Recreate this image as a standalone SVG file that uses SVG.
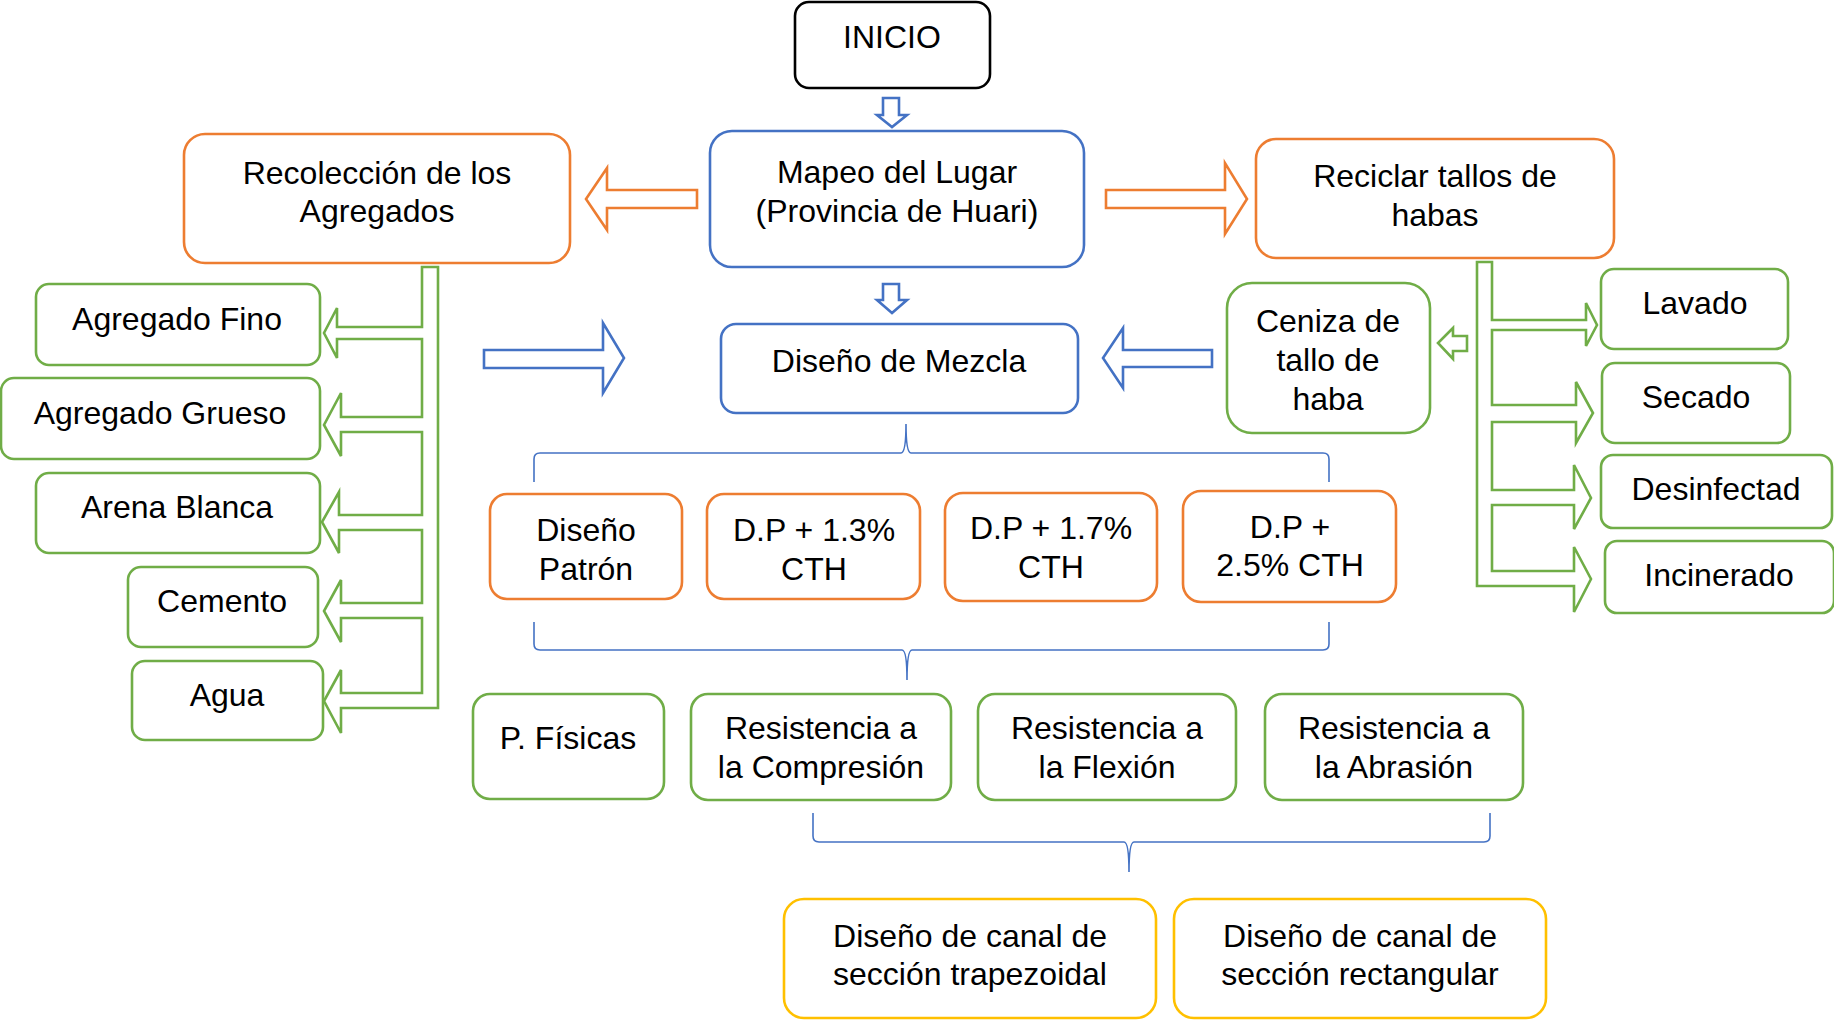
<svg xmlns="http://www.w3.org/2000/svg" width="1834" height="1020" viewBox="0 0 1834 1020">
<style>
.box{fill:#fff;stroke-width:2.6}
.k{stroke:#000}
.b{stroke:#4472C4}
.o{stroke:#ED7D31}
.g{stroke:#70AD47}
.y{stroke:#FFC000}
.arr{fill:#fff;stroke-width:2.6;stroke-linejoin:miter}
.br{fill:none;stroke:#4472C4;stroke-width:1.6}
text{font-family:"Liberation Sans",Arial,sans-serif;font-size:32px;fill:#000;text-anchor:middle}
</style>
<rect width="1834" height="1020" fill="#fff"/>
<g id="connectors">
  <polygon class="arr b" points="883,98 899,98 899,115 907,115 892,127 877,115 883,115"/>
  <polygon class="arr b" points="883,284 899,284 899,300 907,300 892,313 877,300 883,300"/>
  <polygon class="arr o" points="697,190 697,208 607,208 607,230 586,199 607,168 607,190"/>
  <polygon class="arr o" points="1106,190 1225,190 1225,163 1247,199 1225,234 1225,208 1106,208"/>
  <polygon class="arr b" points="484,350 603,350 603,323 624,358 603,393 603,368 484,368"/>
  <polygon class="arr b" points="1212,350 1212,367 1123,367 1123,388 1103,358 1123,328 1123,350"/>
  <polygon class="arr g" points="1467,336 1467,351 1453,351 1453,359 1438,343 1453,328 1453,336"/>
  <path class="arr g" d="M422 267 L438 267 L438 708 L341 708 L341 733 L324 701 L341 670 L341 693 L422 693 L422 618 L341 618 L341 642 L324 611 L341 580 L341 603 L422 603 L422 530 L339 530 L339 553 L322 522 L339 492 L339 515 L422 515 L422 432 L341 432 L341 456 L324 425 L341 393 L341 417 L422 417 L422 339 L337 339 L337 358 L324 333 L337 308 L337 327 L422 327 Z"/>
  <path class="arr g" d="M1477 262 L1492 262 L1492 320 L1586 320 L1586 303 L1597 325 L1586 346 L1586 330 L1492 330 L1492 405 L1576 405 L1576 382 L1593 413 L1576 443 L1576 422 L1492 422 L1492 490 L1574 490 L1574 465 L1591 498 L1574 529 L1574 505 L1492 505 L1492 571 L1574 571 L1574 547 L1591 579 L1574 612 L1574 586 L1477 586 Z"/>
  <path class="br" d="M534 482 L534 459 Q534 453 540 453 L901 453 C905 453 906 440 906 424 C906 440 907 453 911 453 L1323 453 Q1329 453 1329 459 L1329 482"/>
  <path class="br" d="M534 622 L534 644 Q534 650 540 650 L902 650 C906 650 907 663 907 680 C907 663 908 650 912 650 L1323 650 Q1329 650 1329 644 L1329 622"/>
  <path class="br" d="M813 813 L813 836 Q813 842 819 842 L1124 842 C1128 842 1129 855 1129 872 C1129 855 1130 842 1134 842 L1484 842 Q1490 842 1490 836 L1490 813"/>
</g>
<g id="inicio"><rect class="box k" x="795" y="2" width="195" height="86" rx="14"/><text x="892" y="48">INICIO</text></g>
<g id="mapeo"><rect class="box b" x="710" y="131" width="374" height="136" rx="22"/><text x="897" y="183">Mapeo del Lugar</text><text x="897" y="222">(Provincia de Huari)</text></g>
<g id="recoleccion"><rect class="box o" x="184" y="134" width="386" height="129" rx="21"/><text x="377" y="184">Recolección de los</text><text x="377" y="222">Agregados</text></g>
<g id="reciclar"><rect class="box o" x="1256" y="139" width="358" height="119" rx="20"/><text x="1435" y="187">Reciclar tallos de</text><text x="1435" y="226">habas</text></g>
<g id="mezcla"><rect class="box b" x="721" y="324" width="357" height="89" rx="15"/><text x="899" y="372">Diseño de Mezcla</text></g>
<g id="ceniza"><rect class="box g" x="1227" y="283" width="203" height="150" rx="25"/><text x="1328" y="332">Ceniza de</text><text x="1328" y="371">tallo de</text><text x="1328" y="410">haba</text></g>
<g id="fino"><rect class="box g" x="36" y="284" width="284" height="81" rx="13"/><text x="177" y="330">Agregado Fino</text></g>
<g id="grueso"><rect class="box g" x="1" y="378" width="319" height="81" rx="13"/><text x="160" y="424">Agregado Grueso</text></g>
<g id="arena"><rect class="box g" x="36" y="473" width="284" height="80" rx="13"/><text x="177" y="518">Arena Blanca</text></g>
<g id="cemento"><rect class="box g" x="128" y="567" width="190" height="80" rx="13"/><text x="222" y="612">Cemento</text></g>
<g id="agua"><rect class="box g" x="132" y="661" width="191" height="79" rx="13"/><text x="227" y="706">Agua</text></g>
<g id="lavado"><rect class="box g" x="1601" y="269" width="187" height="80" rx="13"/><text x="1695" y="314">Lavado</text></g>
<g id="secado"><rect class="box g" x="1602" y="363" width="188" height="80" rx="13"/><text x="1696" y="408">Secado</text></g>
<g id="desinfectad"><rect class="box g" x="1601" y="455" width="231" height="73" rx="12"/><text x="1716" y="500">Desinfectad</text></g>
<g id="incinerado"><rect class="box g" x="1605" y="541" width="229" height="72" rx="12"/><text x="1719" y="586">Incinerado</text></g>
<g id="patron"><rect class="box o" x="490" y="494" width="192" height="105" rx="17"/><text x="586" y="541">Diseño</text><text x="586" y="580">Patrón</text></g>
<g id="dp13"><rect class="box o" x="707" y="494" width="213" height="105" rx="17"/><text x="814" y="541">D.P + 1.3%</text><text x="814" y="580">CTH</text></g>
<g id="dp17"><rect class="box o" x="945" y="493" width="212" height="108" rx="18"/><text x="1051" y="539">D.P + 1.7%</text><text x="1051" y="578">CTH</text></g>
<g id="dp25"><rect class="box o" x="1183" y="491" width="213" height="111" rx="18"/><text x="1290" y="538">D.P +</text><text x="1290" y="576">2.5% CTH</text></g>
<g id="fisicas"><rect class="box g" x="473" y="694" width="191" height="105" rx="17"/><text x="568" y="749">P. Físicas</text></g>
<g id="compresion"><rect class="box g" x="691" y="694" width="260" height="106" rx="17"/><text x="821" y="739">Resistencia a</text><text x="821" y="778">la Compresión</text></g>
<g id="flexion"><rect class="box g" x="978" y="694" width="258" height="106" rx="17"/><text x="1107" y="739">Resistencia a</text><text x="1107" y="778">la Flexión</text></g>
<g id="abrasion"><rect class="box g" x="1265" y="694" width="258" height="106" rx="17"/><text x="1394" y="739">Resistencia a</text><text x="1394" y="778">la Abrasión</text></g>
<g id="trapezoidal"><rect class="box y" x="784" y="899" width="372" height="119" rx="20"/><text x="970" y="947">Diseño de canal de</text><text x="970" y="985">sección trapezoidal</text></g>
<g id="rectangular"><rect class="box y" x="1174" y="899" width="372" height="119" rx="20"/><text x="1360" y="947">Diseño de canal de</text><text x="1360" y="985">sección rectangular</text></g>
</svg>
